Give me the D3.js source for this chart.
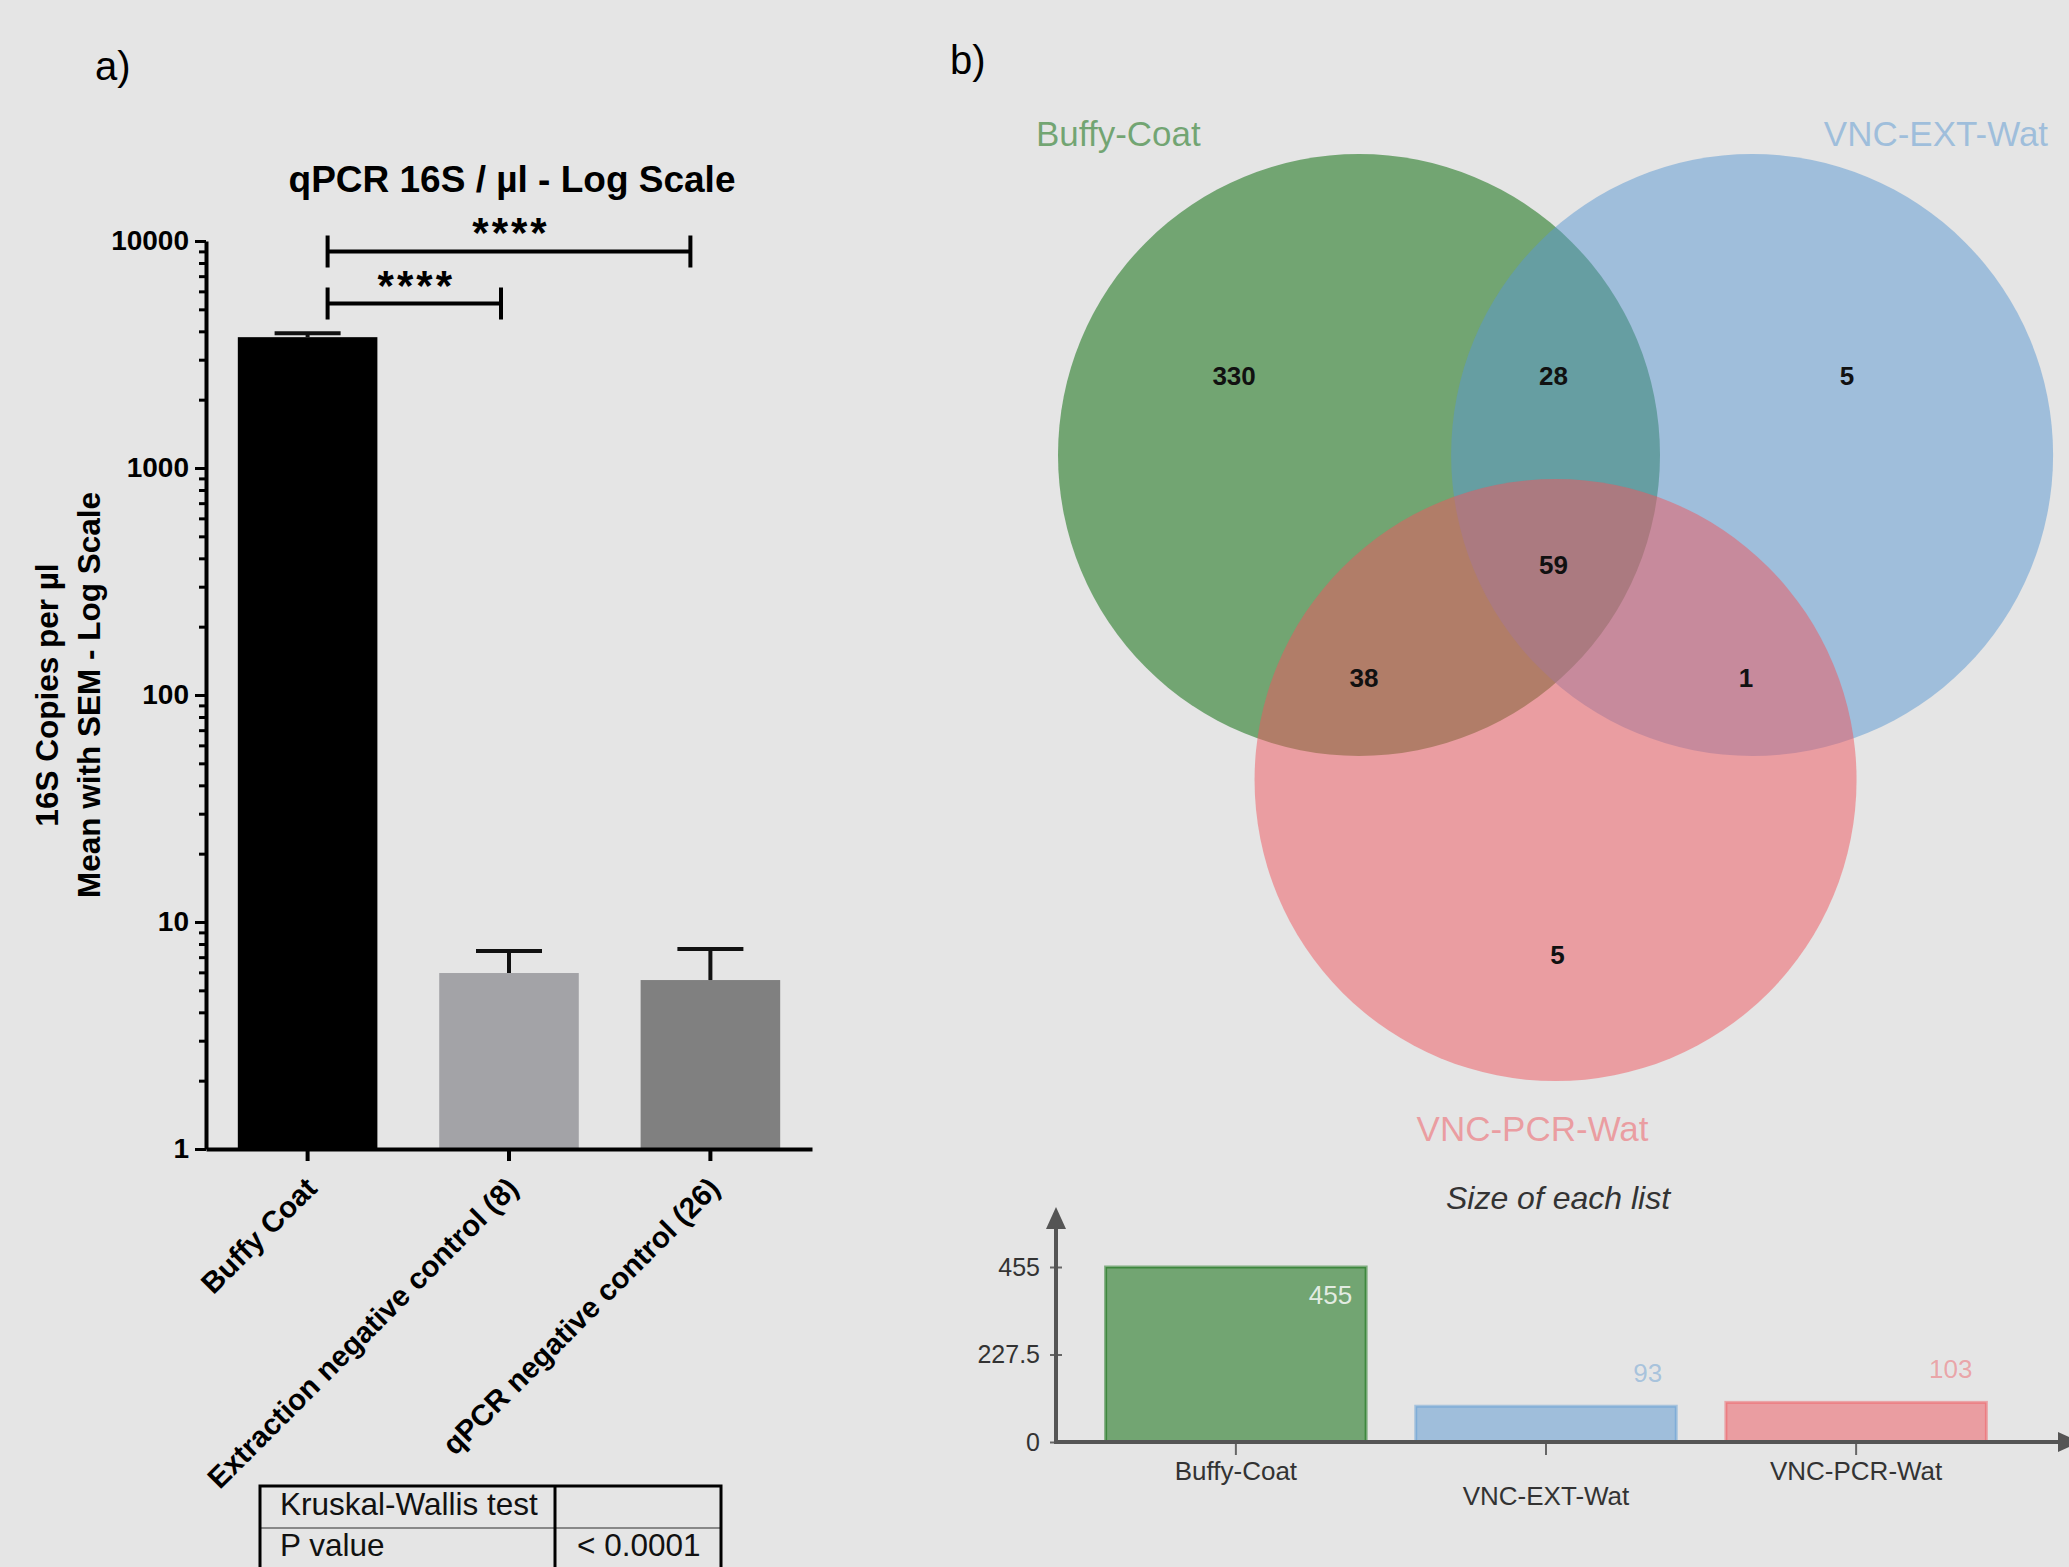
<!DOCTYPE html>
<html>
<head>
<meta charset="utf-8">
<script src="https://cdn.jsdelivr.net/npm/d3@7"></script>
<style>
  body { margin: 0; background: #e5e5e5; }
  svg { display: block; font-family: "Liberation Sans", Arial, sans-serif; }
</style>
</head>
<body>
<div id="chart"></div>
<script>
// a) qPCR bars
const qpcrGroups = ["Buffy Coat", "Extraction negative control (8)", "qPCR negative control (26)"]
const qpcrMeans = [3770, 5.96, 5.55]
const qpcrSem = [150, 1.5, 2.05]
const logTicks = [1, 10, 100, 1000, 10000]
const sigPairs = [[0, 2], [0, 1]]
const sigLabels = ["****", "****"]
const sigLevels = [9000, 5300]
const testRows = [["Kruskal-Wallis test", ""], ["P value", "< 0.0001"]]

// b) venn + list sizes
const vennSets = ["Buffy-Coat", "VNC-EXT-Wat", "VNC-PCR-Wat"]
const vennRegions = ["A", "AB", "B", "ABC", "AC", "BC", "C"]
const vennCounts = [330, 28, 5, 59, 38, 1, 5]
const listSizes = [455, 93, 103]
const sizeTicks = [0, 227.5, 455]

const width = 2069
const height = 1567
const barColors = ["#000000", "#a3a3a7", "#808080"]
const vennColors = ["#006600", "#5a98d2", "#f0565e"]
const bracketInset = [20, 8]

const svg = d3.select('#chart').append('svg')
    .attr('width', width)
    .attr('height', height)

svg.append('rect').attr('width', width).attr('height', height).attr('fill', '#e5e5e5')

// ---------- panel a ----------
const aLeft = 206, aRight = 812, aTop = 241, aBottom = 1149

const x = d3.scaleBand()
    .domain(qpcrGroups)
    .range([aLeft, aRight])
    .paddingInner(0.307)
    .paddingOuter(0.158)

const y = d3.scaleLog()
    .domain([1, 10000])
    .range([aBottom, aTop])

svg.append('text')
    .attr('x', 95).attr('y', 80)
    .style('font-size', '40px')
    .text('a)')

svg.append('text')
    .attr('x', (aLeft + aRight) / 2 + 3).attr('y', 192)
    .attr('text-anchor', 'middle')
    .style('font-size', '37px').style('font-weight', 'bold')
    .text('qPCR 16S / µl - Log Scale')

// bars
svg.append('g').selectAll('rect')
    .data(qpcrGroups)
    .join('rect')
    .attr('x', d => x(d))
    .attr('y', (d, i) => y(qpcrMeans[i]))
    .attr('width', x.bandwidth())
    .attr('height', (d, i) => aBottom - y(qpcrMeans[i]))
    .attr('fill', (d, i) => barColors[i])

// error bars (mean + SEM)
const eb = svg.append('g').attr('stroke', '#111').attr('stroke-width', 4)
qpcrGroups.forEach((g, i) => {
    const cx = x(g) + x.bandwidth() / 2
    const top = y(qpcrMeans[i] + qpcrSem[i])
    eb.append('line').attr('x1', cx).attr('x2', cx).attr('y1', y(qpcrMeans[i])).attr('y2', top)
    eb.append('line').attr('x1', cx - 33).attr('x2', cx + 33).attr('y1', top).attr('y2', top)
})

// y axis, minor + major ticks
const minorTicks = y.ticks().filter(v => !logTicks.includes(v))
svg.append('g')
    .attr('transform', `translate(${aLeft},0)`)
    .call(d3.axisLeft(y).tickValues(minorTicks).tickSize(7).tickFormat(''))
    .call(g => g.select('.domain').remove())
    .call(g => g.selectAll('line').attr('stroke-width', 3))

const yAxisGroup = svg.append('g')
    .attr('transform', `translate(${aLeft},0)`)
    .call(d3.axisLeft(y).tickValues(logTicks).tickSize(11).tickSizeOuter(0).tickPadding(6).tickFormat(d3.format('d')))
yAxisGroup.select('.domain').attr('stroke-width', 4)
yAxisGroup.selectAll('line').attr('stroke-width', 3)
yAxisGroup.selectAll('text')
    .style('font-size', '28px').style('font-weight', 'bold').attr('fill', '#000')

// x axis
const xAxisGroup = svg.append('g')
    .attr('transform', `translate(0,${aBottom})`)
    .call(d3.axisBottom(x).tickSize(12).tickSizeOuter(0))
xAxisGroup.select('.domain').attr('stroke-width', 4)
xAxisGroup.selectAll('line').attr('stroke-width', 4)
xAxisGroup.selectAll('text')
    .attr('x', 0).attr('y', 0).attr('dy', 0)
    .attr('text-anchor', 'end')
    .attr('transform', 'translate(11,41) rotate(-45)')
    .style('font-size', '29.5px').style('font-weight', 'bold').attr('fill', '#000')

// y title
const yTitle = ['16S Copies per µl', 'Mean with SEM - Log Scale']
yTitle.forEach((t, i) => {
    svg.append('text')
        .attr('transform', `translate(${58 + i * 42},695) rotate(-90)`)
        .attr('text-anchor', 'middle')
        .style('font-size', '31.5px').style('font-weight', 'bold')
        .text(t)
})

// significance brackets
sigPairs.forEach((p, i) => {
    const xl = x(qpcrGroups[p[0]]) + x.bandwidth() / 2 + 20
    const xr = x(qpcrGroups[p[1]]) + x.bandwidth() / 2 - bracketInset[i]
    const yy = y(sigLevels[i])
    svg.append('path')
        .attr('d', `M${xl},${yy - 16}V${yy + 16}M${xl},${yy}H${xr}M${xr},${yy - 16}V${yy + 16}`)
        .attr('fill', 'none').attr('stroke', '#000').attr('stroke-width', 4)
    svg.append('text')
        .attr('x', (xl + xr) / 2 + 2).attr('y', yy - 4)
        .attr('text-anchor', 'middle')
        .style('font-size', '42px').style('font-weight', 'bold').style('letter-spacing', '3px')
        .text(sigLabels[i])
})

// test table
const tbl = svg.append('g')
tbl.append('line').attr('x1', 260).attr('x2', 721).attr('y1', 1528).attr('y2', 1528)
    .attr('stroke', '#888').attr('stroke-width', 2)
tbl.append('rect').attr('x', 260).attr('y', 1486).attr('width', 461).attr('height', 95)
    .attr('fill', 'none').attr('stroke', '#000').attr('stroke-width', 3)
tbl.append('line').attr('x1', 555).attr('x2', 555).attr('y1', 1486).attr('y2', 1581)
    .attr('stroke', '#000').attr('stroke-width', 3)
testRows.forEach((r, i) => {
    tbl.append('text').attr('x', 280).attr('y', 1515 + i * 41)
        .style('font-size', '31.5px').attr('fill', '#111').text(r[0])
    tbl.append('text').attr('x', 577).attr('y', 1515 + i * 41)
        .style('font-size', '31.5px').attr('fill', '#111').text(r[1])
})

// ---------- panel b ----------
svg.append('text')
    .attr('x', 950).attr('y', 74)
    .style('font-size', '40px')
    .text('b)')

const vr = 301
const ax0 = 1359, ay0 = 455
const centers = [
    [ax0, ay0],
    [ax0 + 1.306 * vr, ay0],
    [ax0 + 0.653 * vr, ay0 + 1.08 * vr]
]

svg.append('g').selectAll('circle')
    .data(vennSets)
    .join('circle')
    .attr('cx', (d, i) => centers[i][0])
    .attr('cy', (d, i) => centers[i][1])
    .attr('r', vr)
    .attr('fill', (d, i) => vennColors[i])
    .attr('fill-opacity', 0.5)

// set names
const setLabelPos = [
    [centers[0][0] - vr - 22, 146, 'start'],
    [centers[1][0] + vr - 5, 146, 'end'],
    [centers[2][0] - 23, centers[2][1] + vr + 60, 'middle']
]
vennSets.forEach((s, i) => {
    svg.append('text')
        .attr('x', setLabelPos[i][0]).attr('y', setLabelPos[i][1])
        .attr('text-anchor', setLabelPos[i][2])
        .attr('fill', vennColors[i]).attr('fill-opacity', 0.5)
        .style('font-size', '35px')
        .text(s)
})

// region counts
const midAB = (centers[0][0] + centers[1][0]) / 2
const regionPos = {
    A: [centers[0][0] - 0.415 * vr, ay0 - 0.262 * vr],
    AB: [midAB - 2, ay0 - 0.262 * vr],
    B: [centers[1][0] + 0.315 * vr, ay0 - 0.262 * vr],
    ABC: [midAB - 2, ay0 + 0.365 * vr],
    AC: [centers[0][0] + 5, ay0 + 0.74 * vr],
    BC: [centers[1][0] - 6, ay0 + 0.74 * vr],
    C: [centers[2][0] + 2, centers[2][1] + 0.58 * vr]
}
svg.append('g').selectAll('text')
    .data(vennRegions)
    .join('text')
    .attr('x', d => regionPos[d][0])
    .attr('y', d => regionPos[d][1])
    .attr('dy', '0.35em')
    .attr('text-anchor', 'middle')
    .style('font-size', '26px').style('font-weight', 'bold')
    .attr('fill', '#111')
    .text((d, i) => vennCounts[i])

// size of each list
const bLeft = 1056, bRight = 2036, bBase = 1442, bTop = 1267

const xb = d3.scaleBand()
    .domain(vennSets)
    .range([bLeft, bRight])
    .paddingInner(0.16)
    .paddingOuter(0.16)

const yb = d3.scaleLinear()
    .domain([0, d3.max(listSizes)])
    .range([bBase, bTop])

svg.append('text')
    .attr('x', 1558).attr('y', 1209)
    .attr('text-anchor', 'middle')
    .style('font-size', '32px').style('font-style', 'italic')
    .attr('fill', '#333')
    .text('Size of each list')

svg.append('g').selectAll('rect')
    .data(vennSets)
    .join('rect')
    .attr('x', d => xb(d))
    .attr('y', (d, i) => yb(listSizes[i]))
    .attr('width', xb.bandwidth())
    .attr('height', (d, i) => bBase - yb(listSizes[i]))
    .attr('fill', (d, i) => vennColors[i])
    .attr('fill-opacity', 0.5)
    .attr('stroke', (d, i) => vennColors[i])
    .attr('stroke-opacity', 0.45)
    .attr('stroke-width', 3)

svg.append('g').selectAll('text')
    .data(vennSets)
    .join('text')
    .attr('x', d => xb(d) + xb.bandwidth() - 14)
    .attr('y', (d, i) => {
        const top = yb(listSizes[i])
        return bBase - top > 60 ? top + 37 : top - 24
    })
    .attr('text-anchor', 'end')
    .style('font-size', '26px')
    .attr('fill', (d, i) => bBase - yb(listSizes[i]) > 60 ? '#f2f6f2' : vennColors[i])
    .attr('fill-opacity', (d, i) => bBase - yb(listSizes[i]) > 60 ? 0.9 : 0.45)
    .text((d, i) => listSizes[i])

const byAxis = svg.append('g')
    .attr('transform', `translate(${bLeft},0)`)
    .call(d3.axisLeft(yb).tickValues(sizeTicks).tickSize(6).tickPadding(10).tickFormat(d => d))
byAxis.select('.domain').remove()
byAxis.selectAll('line').attr('x2', -6).attr('x1', 6).attr('stroke', '#666').attr('stroke-width', 2)
byAxis.selectAll('text').style('font-size', '25px').attr('fill', '#333')

const bxAxis = svg.append('g')
    .attr('transform', `translate(0,${bBase})`)
    .call(d3.axisBottom(xb).tickSize(13).tickSizeOuter(0))
bxAxis.select('.domain').remove()
bxAxis.selectAll('line').attr('stroke', '#666').attr('stroke-width', 2)
bxAxis.selectAll('text')
    .attr('y', (d, i) => i % 2 ? 63 : 38).attr('dy', 0)
    .style('font-size', '26px').attr('fill', '#333')

// arrowed axes
const axisCol = '#555'
svg.append('line').attr('x1', bLeft).attr('x2', bLeft).attr('y1', bBase + 2).attr('y2', 1226)
    .attr('stroke', axisCol).attr('stroke-width', 4)
svg.append('path').attr('d', `M${bLeft},1207L${bLeft + 10},1229L${bLeft - 10},1229Z`).attr('fill', axisCol)
svg.append('line').attr('x1', bLeft - 2).attr('x2', 2060).attr('y1', bBase).attr('y2', bBase)
    .attr('stroke', axisCol).attr('stroke-width', 4)
svg.append('path').attr('d', `M2080,${bBase}L2058,${bBase - 10}L2058,${bBase + 10}Z`).attr('fill', axisCol)
</script>
</body>
</html>
